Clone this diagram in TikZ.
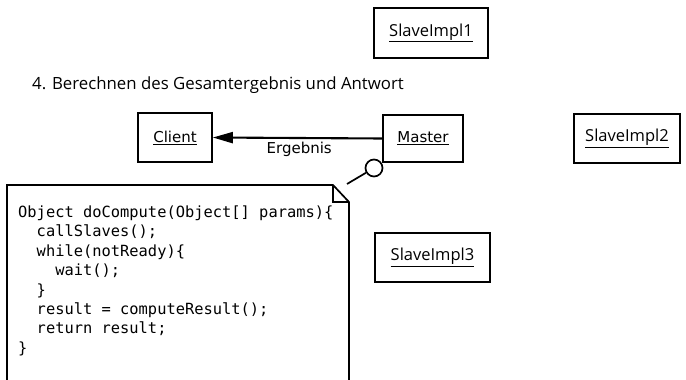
\documentclass[tikz,border=0pt]{standalone}
\usepackage{fontspec}
\setmonofont{DejaVu Sans Mono}
\newfontfamily\boxfont{DejaVu Sans}
\newfontfamily\slavefont{Open Sans}
\usetikzlibrary{arrows.meta}

\tikzset{
  objbox/.style={draw, line width=1.7pt, inner sep=0pt, font=\boxfont\fontsize{15}{18}\selectfont},
  slavebox/.style={objbox, font=\slavefont\fontsize{16.5}{20}\selectfont},
  outline/.style={line width=1.7pt},
  foldline/.style={line width=1.1pt},
  msg/.style={line width=2.1pt, -{Triangle[length=20pt,width=11pt]}},
}

\begin{document}
\begin{tikzpicture}[x=1pt, y=-1pt]
  \useasboundingbox (0,0) rectangle (686,380);
  \clip (0,0) rectangle (686,380);

  % heading
  \node[anchor=base west, inner sep=0pt, font=\slavefont\fontsize{16.8}{20}\selectfont]
    (title) at (32,89) {4. Berechnen des Gesamtergebnis und Antwort};

  % objects
  \node[slavebox, minimum width=114pt, minimum height=50pt] (s1) at (431,33) {\underline{SlaveImpl1}};
  \node[objbox, minimum width=74pt, minimum height=49pt] (client) at (175,137.5) {\underline{Client}};
  \node[objbox, minimum width=80pt, minimum height=47pt] (master) at (423,138.5) {\underline{Master}};
  \node[slavebox, minimum width=106pt, minimum height=49pt] (s2) at (627,138.5) {\underline{SlaveImpl2}};
  \node[slavebox, minimum width=115pt, minimum height=49pt] (s3) at (432.5,257.5) {\underline{SlaveImpl3}};

  % result message
  \draw[msg] (master.west) -- (client.east)
    node[pos=0.49, yshift=-11pt, font=\boxfont\fontsize{15}{18}\selectfont] (lbl) {Ergebnis};

  % note with folded corner
  \draw[outline, fill=white] (7,185) -- (333,185) -- (349,202) -- (349,395) -- (7,395) -- cycle;
  \draw[foldline] (333,185) -- (333,202) -- (349,202);
  \node[anchor=north west, inner sep=0pt, align=left, font=\ttfamily\fontsize{15.4}{19.4}\selectfont]
    (code) at (18,205.5) {Object doCompute(Object[] params)\{\\
\phantom{xx}callSlaves();\\
\phantom{xx}while(notReady)\{\\
\phantom{xxxx}wait();\\
\phantom{xx}\}\\
\phantom{xx}result = computeResult();\\
\phantom{xx}return result;\\
\}};

  % port circle and note anchor line
  \node[draw, line width=1.7pt, circle, minimum size=17pt, inner sep=0pt] (port) at (374,168) {};
  \coordinate (noteend) at (347,184);
  \draw[line width=1.7pt] (port) -- (noteend);
\end{tikzpicture}
\end{document}
